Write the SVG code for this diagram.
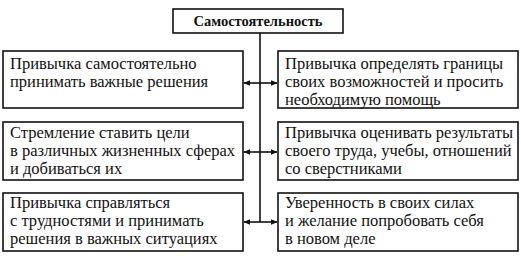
<svg xmlns="http://www.w3.org/2000/svg" width="521" height="256" viewBox="0 0 521 256">
<style>
rect{fill:#fff;stroke:#111;stroke-width:1.6}
text{font-size:16.5px;fill:#111}
.t{font-weight:bold;font-size:14.5px;text-anchor:middle}
.c{stroke:#111;stroke-width:1.6;fill:none}
</style>
<defs>
<marker id="a" viewBox="0 0 10 10" refX="9" refY="5" markerWidth="7" markerHeight="7" markerUnits="userSpaceOnUse" orient="auto"><path d="M0,1L10,5L0,9z" fill="#111"/></marker>
</defs>
<rect x="0" y="0" width="521" height="256" style="stroke:none"/>
<g id="connectors">
<path class="c" d="M260,33V222"/>
<path class="c" d="M260,83H244" marker-end="url(#a)"/>
<path class="c" d="M260,83H277" marker-end="url(#a)"/>
<path class="c" d="M260,152H244" marker-end="url(#a)"/>
<path class="c" d="M260,152H277" marker-end="url(#a)"/>
<path class="c" d="M260,222H244" marker-end="url(#a)"/>
<path class="c" d="M260,222H277" marker-end="url(#a)"/>
</g>
<g font-family="Liberation Serif, Times New Roman, serif">
<g id="root"><rect x="173" y="9" width="170" height="24"/><text class="t" x="258" y="26">Самостоятельность</text></g>
<g id="l1"><rect x="3" y="51" width="240" height="57"/><text x="10" y="69">Привычка самостоятельно</text><text x="10" y="87">принимать важные решения</text></g>
<g id="r1"><rect x="278" y="51" width="240" height="57"/><text x="285" y="69">Привычка определять границы</text><text x="285" y="87">своих возможностей и просить</text><text x="285" y="105">необходимую помощь</text></g>
<g id="l2"><rect x="3" y="122" width="240" height="58"/><text x="10" y="138">Стремление ставить цели</text><text x="10" y="156">в различных жизненных сферах</text><text x="10" y="174">и добиваться их</text></g>
<g id="r2"><rect x="278" y="122" width="240" height="58"/><text x="285" y="138">Привычка оценивать результаты</text><text x="285" y="156">своего труда, учебы, отношений</text><text x="285" y="174">со сверстниками</text></g>
<g id="l3"><rect x="3" y="193" width="240" height="58"/><text x="10" y="208">Привычка справляться</text><text x="10" y="226">с трудностями и принимать</text><text x="10" y="244">решения в важных ситуациях</text></g>
<g id="r3"><rect x="278" y="193" width="240" height="58"/><text x="285" y="208">Уверенность в своих силах</text><text x="285" y="226">и желание попробовать себя</text><text x="285" y="244">в новом деле</text></g>
</g>
</svg>
